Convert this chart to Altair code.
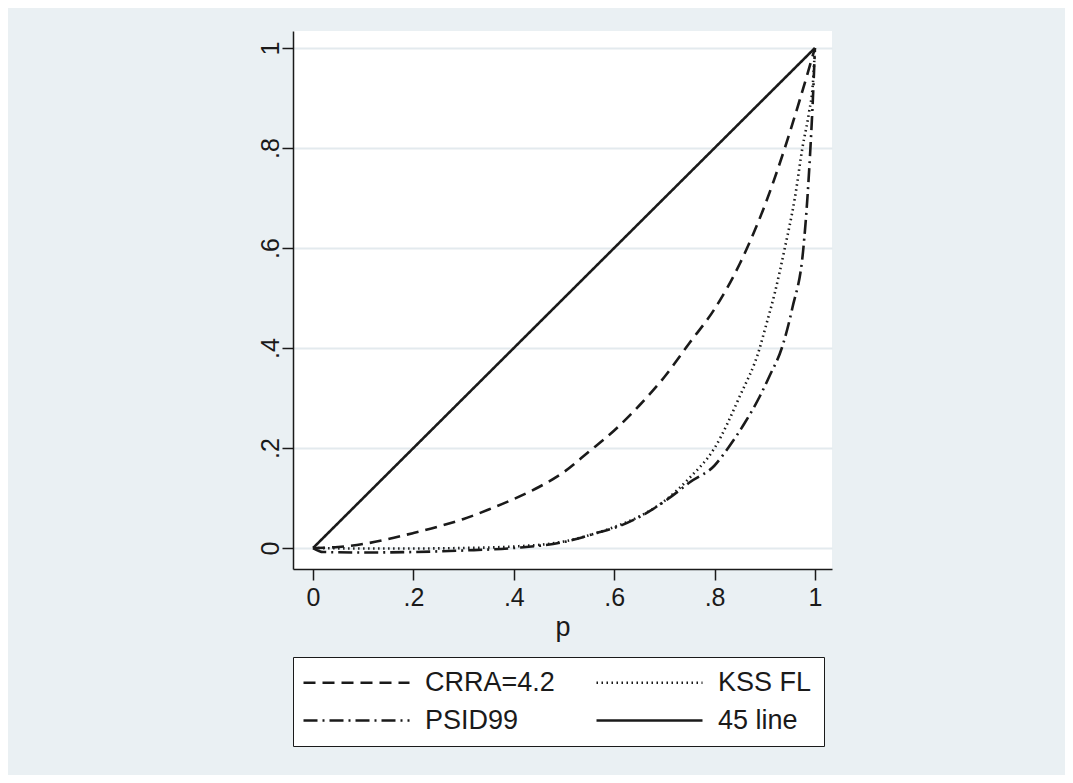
import altair as alt
import pandas as pd

# ---- data ----
# legend order (laid out column by column): CRRA, PSID99 | KSS FL, 45 line
series_names = ["CRRA=4.2", "PSID99", "KSS FL", "45 line"]

crra_p = [0, 0.05, 0.1, 0.15, 0.2, 0.25, 0.3, 0.35, 0.4, 0.45, 0.5, 0.55, 0.6,
          0.65, 0.7, 0.75, 0.8, 0.85, 0.9, 0.94, 0.97, 1.0]
crra_y = [0, 0.002, 0.008, 0.018, 0.03, 0.043, 0.058, 0.077, 0.098, 0.122, 0.152,
          0.193, 0.235, 0.285, 0.342, 0.41, 0.478, 0.568, 0.685, 0.8, 0.897, 1.0]

kss_p = [0, 0.1, 0.2, 0.3, 0.4, 0.5, 0.565, 0.6, 0.65, 0.7, 0.75, 0.8, 0.85,
         0.89, 0.9, 0.92, 0.94, 0.96, 0.975, 0.988, 0.996, 1.0]
kss_y = [0, -0.001, -0.001, 0.0, 0.003, 0.013, 0.03, 0.042, 0.063, 0.094, 0.14,
         0.2, 0.303, 0.4, 0.436, 0.51, 0.6, 0.7, 0.8, 0.87, 0.93, 1.0]

psid_p = [0, 0.02, 0.1, 0.2, 0.3, 0.4, 0.5, 0.565, 0.6, 0.65, 0.7, 0.731, 0.75,
          0.8, 0.827, 0.86, 0.89, 0.91, 0.934, 0.955, 0.977, 0.985, 0.991,
          0.996, 1.0]
psid_y = [0, -0.008, -0.009, -0.008, -0.005, 0.0, 0.012, 0.03, 0.04, 0.062, 0.093,
          0.116, 0.131, 0.165, 0.2, 0.25, 0.303, 0.345, 0.4, 0.48, 0.6, 0.7,
          0.8, 0.9, 1.0]

line45_p = [0, 1]
line45_y = [0, 1]

y_ticks = [0, 0.2, 0.4, 0.6, 0.8, 1.0]
x_ticks = [0, 0.2, 0.4, 0.6, 0.8, 1.0]

frames = []
for name, ps, ys in [("CRRA=4.2", crra_p, crra_y), ("KSS FL", kss_p, kss_y),
                     ("PSID99", psid_p, psid_y), ("45 line", line45_p, line45_y)]:
    frames.append(pd.DataFrame({"p": ps, "v": ys, "series": name}))
df = pd.concat(frames, ignore_index=True)

BG = "#EAF0F3"
INK = "#1a1a1a"
FONT = "Liberation Sans"

tick_expr = ("datum.value == 0 ? '0' : datum.value >= 1 ? '1' : "
             "replace(format(datum.value, '.1f'), '0.', '.')")

chart = alt.Chart(df).mark_line(interpolate="monotone", strokeCap="butt").encode(
    x=alt.X("p:Q",
            scale=alt.Scale(domain=[-0.04, 1.034], nice=False, zero=False),
            axis=alt.Axis(values=x_ticks, labelExpr=tick_expr, title="p",
                          grid=False, tickSize=11, labelPadding=5,
                          titlePadding=4)),
    y=alt.Y("v:Q",
            scale=alt.Scale(domain=[-0.042, 1.034], nice=False, zero=False),
            axis=alt.Axis(values=y_ticks, labelExpr=tick_expr, title=None,
                          grid=True, tickSize=11, labelAngle=270,
                          labelAlign="center", labelBaseline="alphabetic",
                          labelPadding=4)),
    strokeDash=alt.StrokeDash(
        "series:N",
        scale=alt.Scale(domain=series_names,
                        range=[[12, 7], [14, 5, 2, 5], [1.5, 3.5], [1, 0]]),
        sort=series_names,
        legend=alt.Legend(title=None, orient="none", legendX=0, legendY=626,
                          columns=2, symbolType="M-1.5,0H9.1", symbolSize=400,
                          symbolStrokeWidth=2, symbolStrokeColor=INK,
                          labelFontSize=27, labelFont=FONT, labelColor=INK,
                          labelOffset=93, columnPadding=36, rowPadding=10,
                          padding=12, strokeColor=INK, fillColor="white",
                          labelLimit=400),
    ),
    strokeWidth=alt.StrokeWidth(
        "series:N",
        scale=alt.Scale(domain=series_names, range=[2.6, 2.6, 1.8, 2.4]),
        legend=None),
    color=alt.value(INK),
    order=alt.Order("p:Q"),
).properties(
    width=539,
    height=538,
    padding={"left": 285, "top": 23, "right": 233, "bottom": 206},
    autosize=alt.AutoSizeParams(type="none"),
    background=BG,
).configure_view(
    fill="white", stroke=None
).configure_axis(
    domainColor=INK, domainWidth=1.5, tickColor=INK, tickWidth=1.5,
    labelFont=FONT, labelFontSize=25, labelColor=INK,
    titleFont=FONT, titleFontSize=27, titleColor=INK, titleFontWeight="normal",
    gridColor="#E3EAEE", gridWidth=2,
)

chart.save("out.html", embed_options={"renderer": "svg", "actions": False})
